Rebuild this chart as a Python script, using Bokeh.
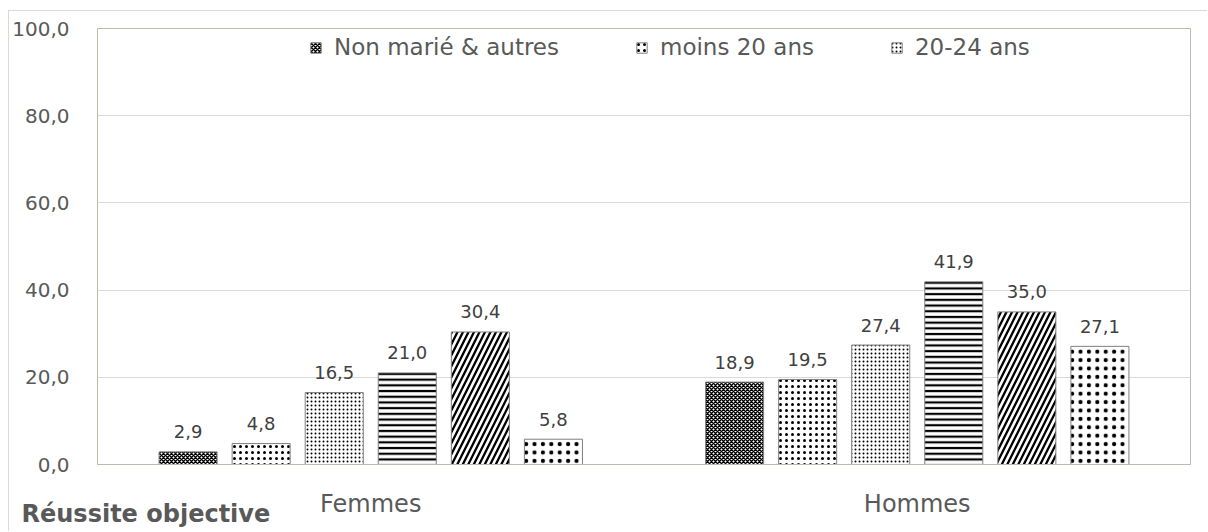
from bokeh.plotting import figure
from bokeh.models import Range1d, FixedTicker, Legend, LegendItem, Title, ColumnDataSource
from bokeh.core.properties import value
from bokeh.embed import file_html
from bokeh.resources import INLINE

categories = ["Femmes", "Hommes"]
series_names = ["Non marié & autres", "moins 20 ans", "20-24 ans", "25-29 ans", "30-34 ans", "35 ans et plus"]
femmes = [2.9, 4.8, 16.5, 21.0, 30.4, 5.8]
hommes = [18.9, 19.5, 27.4, 41.9, 35.0, 27.1]
y_ticks = [0, 20, 40, 60, 80, 100]
legend_shown = 3

FONT = "DejaVu Sans"
hatches = [
    dict(hatch_pattern="diagonal_cross", hatch_scale=4, hatch_weight=1.5),
    dict(hatch_pattern="dot", hatch_scale=6, hatch_weight=1.2),
    dict(hatch_pattern="dot", hatch_scale=4, hatch_weight=1.0),
    dict(hatch_pattern="horizontal_line", hatch_scale=5.7, hatch_weight=2.2),
    dict(hatch_pattern="right_diagonal_line", hatch_scale=11, hatch_weight=2.3),
    dict(hatch_pattern="dot", hatch_scale=8.4, hatch_weight=1.3),
]

p = figure(width=1199, height=521,
           min_border_left=87, min_border_right=18, min_border_top=17, min_border_bottom=68,
           x_range=Range1d(0, 2), y_range=Range1d(0, 100),
           output_backend="svg", toolbar_location=None)
p.styles = {"margin-left": "8px", "margin-top": "10px",
            "border-left": "1px solid #d9d9d9", "border-top": "1px solid #d9d9d9"}

p.outline_line_color = "#bcbcae"
p.outline_line_width = 1
p.xgrid.grid_line_color = None
p.ygrid.grid_line_color = "#d9d9d9"
p.ygrid.ticker = FixedTicker(ticks=y_ticks)

p.yaxis.ticker = FixedTicker(ticks=y_ticks)
p.yaxis.major_label_overrides = {t: f"{t:.1f}".replace(".", ",") for t in y_ticks}
p.yaxis.axis_line_color = None
p.yaxis.major_tick_line_color = None
p.yaxis.minor_tick_line_color = None
p.yaxis.major_label_standoff = 22
p.yaxis.major_label_text_font = FONT
p.yaxis.major_label_text_font_size = "20px"
p.yaxis.major_label_text_color = "#595959"

centers = [i + 0.5 for i in range(len(categories))]
p.xaxis.ticker = FixedTicker(ticks=centers)
p.xaxis.major_label_overrides = {c: n for c, n in zip(centers, categories)}
p.xaxis.axis_line_color = "#bcbcae"
p.xaxis.major_tick_line_color = None
p.xaxis.minor_tick_line_color = None
p.xaxis.major_label_standoff = 19
p.xaxis.major_label_text_font = FONT
p.xaxis.major_label_text_font_size = "24px"
p.xaxis.major_label_text_color = "#595959"

step = 0.1337
bw = 0.1062
renderers = []
for i, name in enumerate(series_names):
    vals = [femmes[i], hommes[i]]
    xs = [c + (i - 2.5) * step for c in centers]
    src = ColumnDataSource(dict(x=xs, top=vals,
                                lbl=[f"{v:.1f}".replace(".", ",") for v in vals]))
    r = p.vbar(x="x", top="top", width=bw, bottom=0, source=src,
               fill_color="white", line_color="#7f7f7f", line_width=1,
               hatch_color="black", **hatches[i])
    renderers.append(r)
    p.text(x="x", y="top", text="lbl", source=src, text_align="center",
           text_baseline="alphabetic", y_offset=-20,
           text_font=value(FONT), text_font_size="18px", text_color="#404040")

legend = Legend(items=[LegendItem(label=series_names[i], renderers=[renderers[i]]) for i in range(legend_shown)],
                orientation="horizontal", location=(212, 404),
                background_fill_alpha=0, border_line_color=None,
                glyph_width=13, glyph_height=13, label_height=26,
                label_text_font=FONT, label_text_font_size="23px", label_text_color="#595959",
                spacing=76, padding=0, margin=0, label_standoff=12)
p.add_layout(legend, "center")

p.add_layout(Title(text="Réussite objective", align="left", offset=-76,
                   vertical_align="top",
                   text_font=FONT, text_font_size="24px", text_font_style="bold",
                   text_color="#595959", standoff=-42), "below")

open("out.html", "w").write(file_html(p, INLINE))
